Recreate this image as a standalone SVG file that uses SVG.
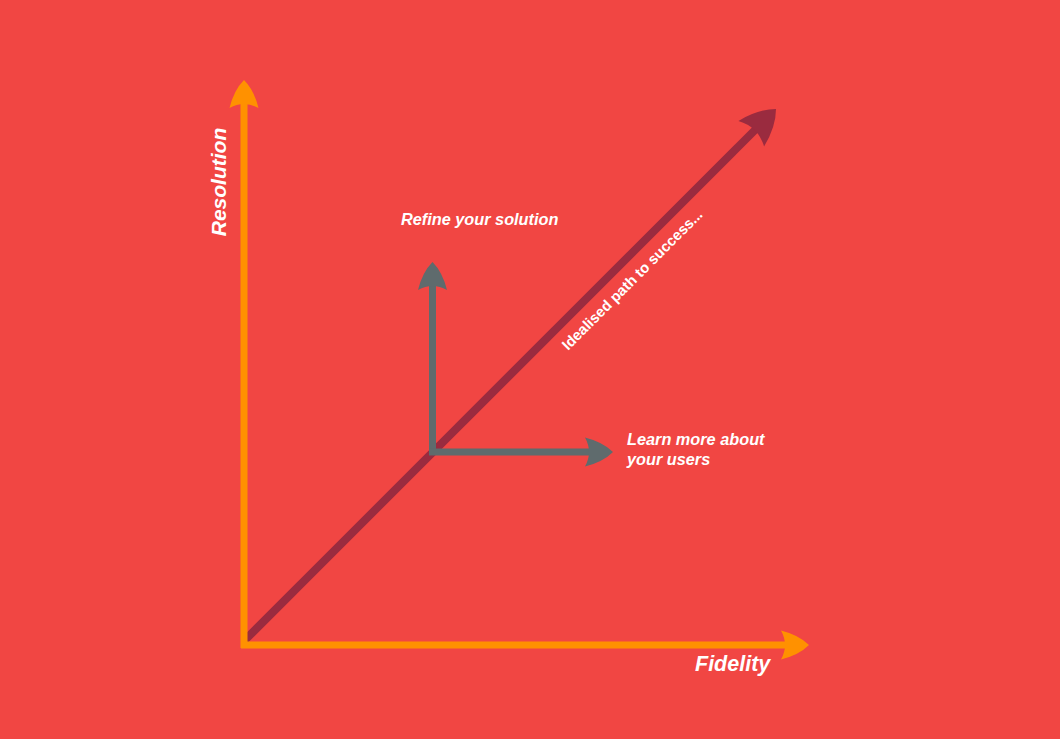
<svg xmlns="http://www.w3.org/2000/svg" width="1060" height="739" viewBox="0 0 1060 739">
  <defs>
    <!-- swept arrowhead pointing along +x, tip at origin -->
    <path id="head" d="M0 0 Q -10 -10 -28 -14.5 Q -20 0 -28 14.5 Q -10 10 0 0 Z"/>
    <style>
      .axis { stroke: #ff9100; stroke-width: 7; fill: none; }
      .axis-head { fill: #ff9100; }
      .path { stroke: #9a2b3f; stroke-width: 8; fill: none; }
      .path-head { fill: #9a2b3f; }
      .move { stroke: #5f6b6d; stroke-width: 7; fill: none; }
      .move-head { fill: #5f6b6d; }
      .lbl { font-family: "Liberation Sans", Arial, sans-serif; font-weight: bold; font-style: italic; fill: #ffffff; }
    </style>
  </defs>

  <rect width="1060" height="739" fill="#f14643"/>

  <g id="connectors">
    <!-- idealised diagonal path -->
    <line class="path" x1="244" y1="641" x2="758" y2="127"/>
    <use href="#head" class="path-head" transform="translate(776 109) rotate(-45) scale(1.25)"/>

    <!-- axes -->
    <line class="axis" x1="244" y1="648" x2="244" y2="100"/>
    <use href="#head" class="axis-head" transform="translate(244 80) rotate(-90)"/>
    <line class="axis" x1="241" y1="645" x2="790" y2="645"/>
    <use href="#head" class="axis-head" transform="translate(809 645)"/>

    <!-- refine / learn moves -->
    <line class="move" x1="432.5" y1="455" x2="432.5" y2="282"/>
    <use href="#head" class="move-head" transform="translate(432.5 262) rotate(-90)"/>
    <line class="move" x1="429" y1="452" x2="595" y2="452"/>
    <use href="#head" class="move-head" transform="translate(613 452)"/>
  </g>

  <g id="resolution-label">
    <text class="lbl" font-size="21" text-anchor="middle" transform="translate(226 182) rotate(-90)">Resolution</text>
  </g>
  <g id="fidelity-label">
    <text class="lbl" font-size="21.5" x="695" y="671">Fidelity</text>
  </g>
  <g id="refine-label">
    <text class="lbl" font-size="16.3" x="401" y="225">Refine your solution</text>
  </g>
  <g id="learn-label">
    <text class="lbl" font-size="16.3" x="627" y="445">Learn more about</text>
    <text class="lbl" font-size="16.3" x="627" y="465">your users</text>
  </g>
  <g id="path-label">
    <text font-family="'Liberation Sans', Arial, sans-serif" font-weight="bold" font-size="14.8" fill="#ffffff" transform="translate(568 351) rotate(-45)">Idealised path to success...</text>
  </g>
</svg>
